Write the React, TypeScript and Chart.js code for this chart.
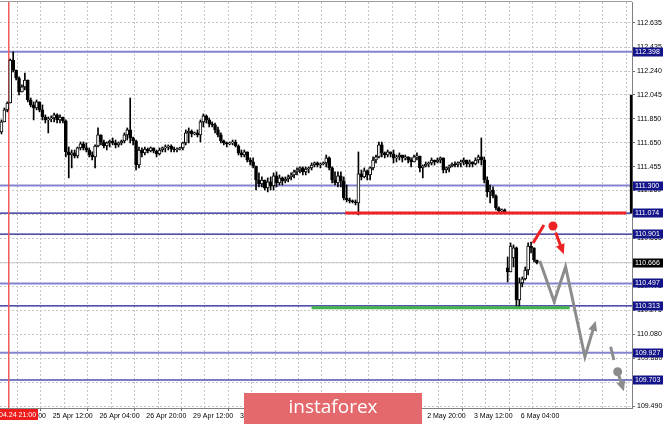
import React, { useEffect, useRef } from "react";
import { Chart, registerables } from "chart.js";
Chart.register(...registerables);

// ---- candle data (USDJPY H1, index 0 = first visible candle) ----
const opens = [111.741,111.823,111.921,111.978,112.331,112.249,112.183,112.069,112.110,112.167,112.003,111.962,111.937,111.987,111.921,111.863,111.839,111.847,111.855,111.880,111.839,111.863,111.831,111.576,111.551,111.568,111.543,111.609,111.642,111.609,111.592,111.551,111.535,111.625,111.716,111.658,111.625,111.650,111.666,111.650,111.634,111.650,111.666,111.716,111.757,111.691,111.666,111.469,111.592,111.568,111.600,111.584,111.609,111.584,111.560,111.592,111.609,111.617,111.625,111.600,111.592,111.600,111.609,111.650,111.732,111.748,111.724,111.732,111.716,111.823,111.872,111.839,111.806,111.798,111.757,111.716,111.666,111.650,111.642,111.650,111.658,111.625,111.568,111.551,111.576,111.510,111.494,111.461,111.346,111.313,111.346,111.281,111.330,111.297,111.379,111.322,111.363,111.338,111.354,111.371,111.387,111.412,111.428,111.445,111.412,111.436,111.445,111.469,111.486,111.469,111.477,111.486,111.527,111.445,111.346,111.322,111.379,111.338,111.198,111.182,111.174,111.166,111.157,111.396,111.371,111.420,111.387,111.445,111.510,111.535,111.634,111.568,111.551,111.576,111.560,111.527,111.535,111.551,111.527,111.535,111.510,111.494,111.535,111.543,111.445,111.461,111.477,111.486,111.510,111.494,111.510,111.527,111.428,111.445,111.461,111.477,111.469,111.486,111.494,111.510,111.477,111.494,111.477,111.510,111.535,111.510,111.346,111.248,111.264,111.215,111.116,111.092,111.100,110.624,110.591,110.706,110.788,110.361,110.501,110.534,110.607,110.804,110.788,110.689];
const highs = [111.839,111.937,111.987,112.339,112.397,112.249,112.192,112.126,112.224,112.167,112.019,111.987,112.003,111.987,111.962,111.880,111.863,111.872,111.896,111.888,111.880,111.863,111.839,111.617,111.592,111.592,111.617,111.658,111.658,111.650,111.609,111.576,111.634,111.773,111.716,111.674,111.658,111.674,111.691,111.674,111.658,111.674,111.732,111.773,112.019,111.699,111.674,111.617,111.609,111.617,111.609,111.617,111.609,111.592,111.609,111.617,111.634,111.634,111.634,111.617,111.609,111.617,111.658,111.757,111.773,111.757,111.740,111.757,111.839,111.888,111.880,111.855,111.823,111.814,111.781,111.732,111.674,111.658,111.658,111.674,111.674,111.634,111.592,111.592,111.576,111.527,111.527,111.461,111.404,111.371,111.346,111.363,111.371,111.404,111.412,111.387,111.371,111.371,111.387,111.404,111.428,111.445,111.453,111.453,111.453,111.453,111.486,111.494,111.494,111.486,111.494,111.551,111.535,111.453,111.412,111.412,111.412,111.371,111.305,111.198,111.182,111.182,111.576,111.428,111.445,111.428,111.453,111.535,111.551,111.658,111.658,111.576,111.592,111.576,111.592,111.551,111.568,111.551,111.551,111.535,111.527,111.551,111.568,111.543,111.469,111.494,111.494,111.527,111.510,111.527,111.535,111.527,111.453,111.469,111.486,111.494,111.494,111.510,111.527,111.510,111.510,111.494,111.527,111.551,111.691,111.535,111.371,111.305,111.289,111.223,111.125,111.108,111.108,110.714,110.829,110.813,110.796,110.542,110.550,110.632,110.829,110.837,110.788,110.689];
const lows = [111.724,111.823,111.905,111.978,112.233,112.167,112.044,112.069,112.085,111.987,111.946,111.839,111.921,111.905,111.839,111.814,111.732,111.823,111.823,111.814,111.814,111.814,111.535,111.363,111.445,111.527,111.527,111.592,111.592,111.576,111.535,111.510,111.445,111.617,111.634,111.609,111.592,111.617,111.634,111.609,111.617,111.634,111.650,111.674,111.650,111.634,111.428,111.445,111.535,111.551,111.568,111.576,111.568,111.535,111.551,111.576,111.576,111.592,111.576,111.576,111.576,111.592,111.592,111.634,111.650,111.699,111.716,111.699,111.658,111.781,111.814,111.781,111.781,111.732,111.699,111.650,111.634,111.617,111.634,111.634,111.617,111.551,111.535,111.535,111.494,111.469,111.445,111.264,111.289,111.289,111.264,111.248,111.264,111.264,111.289,111.305,111.305,111.322,111.330,111.346,111.363,111.387,111.404,111.387,111.387,111.404,111.428,111.453,111.453,111.445,111.469,111.453,111.428,111.322,111.305,111.289,111.289,111.182,111.166,111.157,111.157,111.141,111.059,111.346,111.363,111.346,111.346,111.428,111.486,111.527,111.535,111.527,111.535,111.535,111.486,111.494,111.510,111.494,111.510,111.486,111.453,111.494,111.510,111.412,111.363,111.453,111.453,111.469,111.469,111.486,111.486,111.404,111.404,111.412,111.453,111.453,111.453,111.453,111.469,111.453,111.453,111.453,111.469,111.486,111.469,111.322,111.207,111.157,111.198,111.100,111.075,111.075,111.075,110.509,110.591,110.632,110.295,110.295,110.468,110.525,110.566,110.747,110.673,110.657];
const closes = [111.823,111.921,111.978,112.331,112.249,112.183,112.069,112.110,112.167,112.003,111.962,111.937,111.987,111.921,111.863,111.839,111.847,111.855,111.880,111.839,111.863,111.831,111.576,111.551,111.568,111.543,111.609,111.642,111.609,111.592,111.551,111.535,111.625,111.716,111.658,111.625,111.650,111.666,111.650,111.634,111.650,111.666,111.716,111.757,111.691,111.666,111.469,111.592,111.568,111.600,111.584,111.609,111.584,111.560,111.592,111.609,111.617,111.625,111.600,111.592,111.600,111.609,111.650,111.732,111.748,111.724,111.732,111.716,111.823,111.872,111.839,111.806,111.798,111.757,111.716,111.666,111.650,111.642,111.650,111.658,111.625,111.568,111.551,111.576,111.510,111.494,111.461,111.346,111.313,111.346,111.281,111.330,111.297,111.379,111.322,111.363,111.338,111.354,111.371,111.387,111.412,111.428,111.445,111.412,111.436,111.445,111.469,111.486,111.469,111.477,111.486,111.527,111.445,111.346,111.322,111.379,111.338,111.198,111.182,111.174,111.166,111.157,111.396,111.371,111.420,111.387,111.445,111.510,111.535,111.634,111.568,111.551,111.576,111.560,111.527,111.535,111.551,111.527,111.535,111.510,111.494,111.535,111.543,111.445,111.461,111.477,111.486,111.510,111.494,111.510,111.527,111.428,111.445,111.461,111.477,111.469,111.486,111.494,111.510,111.477,111.494,111.477,111.510,111.535,111.510,111.346,111.248,111.264,111.215,111.116,111.092,111.100,111.083,110.591,110.804,110.788,110.361,110.501,110.534,110.607,110.804,110.788,110.689,110.666];

// ---- axes ----
const X_MIN = -0.5;
const X_MAX = 215.5;
const Y_MIN = 109.474;
const Y_MAX = 112.807;
const yTickValues = [112.635,112.435,112.240,112.045,111.850,111.650,111.455,111.260,111.065,110.865,110.670,110.475,110.275,110.080,109.880,109.685,109.490];
const timeLabels = ["24 Apr 20:00","25 Apr 12:00","26 Apr 04:00","26 Apr 20:00","29 Apr 12:00","30 Apr 04:00","30 Apr 20:00","1 May 12:00","2 May 04:00","2 May 20:00","3 May 12:00","6 May 04:00"];
const FIRST_TICK = 1.5;
const GRID_STEP = 8;
const GRID_COUNT = 27;

// ---- horizontal levels ----
const levels = [112.398, 111.300, 111.074, 110.901, 110.666, 110.497, 110.313, 109.927, 109.703];
const levelColors = ["#8484d0","#8484d0","#1a1a90","#1a1a90","#c8c8c8","#8484d0","#1a1a90","#8484d0","#5050b0"];
const levelWidths = [2, 2, 1.2, 1.2, 1, 2, 1.2, 2, 1.5];
const CURRENT_PRICE = 110.666;

// ---- annotations ----
const eventX = 2.5;
const eventLabel = "2019.04.24 21:00";
const resistance = { value: 111.074, from: 117.5, to: 213.5 };
const support = { value: 110.298, from: 106, to: 194.2 };
const scrollMark = { x: 215.2, top: 112.045, bottom: 111.074 };
const grayPathX = [184.0, 188.9, 192.8, 199.4, 202.6];
const grayPathY = [110.681, 110.347, 110.634, 109.895, 110.150];
const grayDashX = [208.2, 209.3];
const grayDashY = [109.977, 109.868];
const grayDotX = [210.6];
const grayDotY = [109.772];
const grayArrow2X = [210.6, 212.2];
const grayArrow2Y = [109.772, 109.650];
const redLineX = [181.7, 185.4];
const redLineY = [110.829, 110.977];
const redDotX = [188.5];
const redDotY = [110.968];
const redArrowX = [189.4, 191.6];
const redArrowY = [110.915, 110.775];

const FONT = "'Liberation Sans', Arial, sans-serif";

const pts = (xs: number[], ys: number[]) => xs.map((x, i) => ({ x, y: ys[i] }));

const overlayPlugin = {
  id: "overlay",
  afterDatasetsDraw(chart: any) {
    const ctx = chart.ctx;
    chart.data.datasets.forEach((ds: any, i: number) => {
      if (!ds.arrowHead) return;
      const meta = chart.getDatasetMeta(i);
      const n = meta.data.length;
      if (n < 2) return;
      const p1 = meta.data[n - 2];
      const p2 = meta.data[n - 1];
      const a = Math.atan2(p2.y - p1.y, p2.x - p1.x);
      const dx = Math.cos(a), dy = Math.sin(a);
      const tipX = p2.x + dx * 5, tipY = p2.y + dy * 5;
      const bx = p2.x - dx * 5, by = p2.y - dy * 5;
      const hw = 4.5;
      ctx.save();
      ctx.fillStyle = ds.borderColor;
      ctx.beginPath();
      ctx.moveTo(tipX, tipY);
      ctx.lineTo(bx - dy * hw, by + dx * hw);
      ctx.lineTo(bx + dy * hw, by - dx * hw);
      ctx.closePath();
      ctx.fill();
      ctx.restore();
    });
  },
  afterDraw(chart: any) {
    const ctx = chart.ctx;
    const area = chart.chartArea;
    const ys = chart.scales.y;
    const xs = chart.scales.x;
    ctx.save();
    // top frame line
    ctx.strokeStyle = "#9a9a9a";
    ctx.lineWidth = 1;
    ctx.beginPath();
    ctx.moveTo(0, area.top - 0.5);
    ctx.lineTo(area.right, area.top - 0.5);
    ctx.stroke();
    // level price boxes
    ctx.font = `7px ${FONT}`;
    ctx.textBaseline = "middle";
    ctx.textAlign = "left";
    levels.forEach((v) => {
      const y = Math.round(ys.getPixelForValue(v));
      ctx.fillStyle = v === CURRENT_PRICE ? "#000000" : "#14148a";
      ctx.fillRect(area.right + 1, y - 4.5, 30, 9);
      ctx.fillStyle = "#ffffff";
      ctx.fillText(v.toFixed(3), area.right + 3, y + 0.5);
    });
    // event time box
    const ex = xs.getPixelForValue(eventX);
    const w = ctx.measureText(eventLabel).width;
    ctx.fillStyle = "#f01c1c";
    ctx.fillRect(ex - w / 2 - 2, area.bottom + 1, w + 4, 11);
    ctx.fillStyle = "#ffffff";
    ctx.textAlign = "center";
    ctx.fillText(eventLabel, ex, area.bottom + 7);
    // watermark
    ctx.fillStyle = "#e4696d";
    ctx.fillRect(244, 393, 178, 31);
    ctx.fillStyle = "#ffffff";
    ctx.font = "19px 'Open Sans', sans-serif";
    ctx.textAlign = "center";
    ctx.textBaseline = "middle";
    ctx.fillText("instaforex", 333, 408);
    ctx.restore();
  },
};

export default function App() {
  const ref = useRef<HTMLCanvasElement>(null);
  useEffect(() => {
    const bodies = opens.map((o, i) => ({ x: i, y: [Math.min(o, closes[i]), Math.max(o, closes[i])] }));
    const wicks = lows.map((l, i) => ({ x: i, y: [l, highs[i]] }));
    const bodyColors = opens.map((o, i) => (closes[i] >= o ? "#ffffff" : "#000000"));

    const levelSets = levels.map((v, i) => ({
      type: "line",
      data: [{ x: X_MIN, y: v }, { x: X_MAX, y: v }],
      borderColor: levelColors[i],
      borderWidth: levelWidths[i],
      pointRadius: 0,
      order: 10,
    }));

    const datasets: any[] = [
      ...levelSets,
      {
        type: "line",
        data: [{ x: eventX, y: Y_MIN }, { x: eventX, y: Y_MAX }],
        borderColor: "#f05a5a",
        borderWidth: 1.5,
        pointRadius: 0,
        order: 9,
      },
      {
        type: "bar",
        data: wicks,
        backgroundColor: "#000000",
        barThickness: 1,
        grouped: false,
        order: 6,
      },
      {
        type: "bar",
        data: bodies,
        backgroundColor: bodyColors,
        borderColor: "#000000",
        borderWidth: 1,
        borderSkipped: false,
        barThickness: 3,
        minBarLength: 1,
        grouped: false,
        order: 5,
      },
      {
        type: "line",
        data: [{ x: resistance.from, y: resistance.value }, { x: resistance.to, y: resistance.value }],
        borderColor: "#ee2222",
        borderWidth: 3,
        pointRadius: 0,
        order: 3,
      },
      {
        type: "line",
        data: [{ x: support.from, y: support.value }, { x: support.to, y: support.value }],
        borderColor: "#3db34a",
        borderWidth: 3,
        pointRadius: 0,
        order: 3,
      },
      {
        type: "line",
        data: [{ x: scrollMark.x, y: scrollMark.top }, { x: scrollMark.x, y: scrollMark.bottom }],
        borderColor: "#000000",
        borderWidth: 2.5,
        pointRadius: 0,
        clip: false,
        order: 2,
      },
      {
        type: "line",
        data: pts(grayPathX, grayPathY),
        borderColor: "#8c8c8c",
        borderWidth: 3,
        pointRadius: 0,
        arrowHead: true,
        order: 1,
      },
      {
        type: "line",
        data: pts(grayDashX, grayDashY),
        borderColor: "#8c8c8c",
        borderWidth: 3,
        pointRadius: 0,
        order: 1,
      },
      {
        type: "line",
        data: pts(grayArrow2X, grayArrow2Y),
        borderColor: "#8c8c8c",
        borderWidth: 3,
        pointRadius: 0,
        arrowHead: true,
        order: 1,
      },
      {
        type: "line",
        data: pts(grayDotX, grayDotY),
        borderColor: "#8c8c8c",
        backgroundColor: "#8c8c8c",
        pointRadius: 4.5,
        pointBorderWidth: 0,
        order: 1,
      },
      {
        type: "line",
        data: pts(redLineX, redLineY),
        borderColor: "#ee2222",
        borderWidth: 3,
        pointRadius: 0,
        order: 1,
      },
      {
        type: "line",
        data: pts(redArrowX, redArrowY),
        borderColor: "#ee2222",
        borderWidth: 3,
        pointRadius: 0,
        arrowHead: true,
        order: 1,
      },
      {
        type: "line",
        data: pts(redDotX, redDotY),
        borderColor: "#ee2222",
        backgroundColor: "#ee2222",
        pointRadius: 4.5,
        pointBorderWidth: 0,
        order: 1,
      },
    ];

    const chart = new Chart(ref.current!, {
      type: "bar",
      data: { datasets },
      plugins: [overlayPlugin],
      options: {
        responsive: false,
        animation: false,
        events: [],
        devicePixelRatio: 1,
        layout: { autoPadding: false, padding: { top: 2, left: 0, right: 0, bottom: 0 } },
        elements: { point: { radius: 0 }, line: { tension: 0 } },
        plugins: { legend: { display: false }, tooltip: { enabled: false } },
        scales: {
          x: {
            type: "linear",
            min: X_MIN,
            max: X_MAX,
            offset: false,
            afterBuildTicks: (s: any) => {
              s.ticks = Array.from({ length: GRID_COUNT }, (_, k) => ({ value: FIRST_TICK + GRID_STEP * k }));
            },
            afterFit: (s: any) => {
              s.height = 16;
              s.paddingLeft = 0;
              s.paddingRight = 0;
              s.paddingTop = 0;
              s.paddingBottom = 0;
            },
            ticks: {
              autoSkip: false,
              maxRotation: 0,
              minRotation: 0,
              align: "start",
              padding: 1,
              color: "#000000",
              font: { size: 7, family: FONT },
              callback: (_v: any, idx: number) => (idx % 2 === 0 && timeLabels[idx / 2]) ? timeLabels[idx / 2] : "",
            },
            grid: {
              color: "#c6c6c6",
              lineWidth: 1,
              tickLength: 3,
              tickColor: (c: any) => (c.index % 2 === 0 && timeLabels[c.index / 2] ? "#707070" : "rgba(0,0,0,0)"),
            },
            border: { display: true, color: "#808080", dash: [2, 2] },
          },
          y: {
            type: "linear",
            position: "right",
            min: Y_MIN,
            max: Y_MAX,
            afterBuildTicks: (s: any) => {
              s.ticks = yTickValues.map((v) => ({ value: v }));
            },
            afterFit: (s: any) => {
              s.width = 33;
              s.paddingTop = 0;
              s.paddingBottom = 0;
              s.paddingLeft = 0;
              s.paddingRight = 0;
            },
            ticks: {
              padding: 2,
              color: "#000000",
              font: { size: 7, family: FONT },
              callback: (v: any) => Number(v).toFixed(3),
            },
            grid: { color: "#c6c6c6", lineWidth: 1, tickLength: 3, tickColor: "#707070" },
            border: { display: true, color: "#808080", dash: [2, 2] },
          },
        },
      } as any,
    } as any);
    return () => chart.destroy();
  }, []);
  return (
    <div style={{ position: "fixed", left: 0, top: 0, width: 665, height: 424, background: "#ffffff" }}>
      <canvas ref={ref} width={665} height={424} style={{ display: "block" }} />
    </div>
  );
}
